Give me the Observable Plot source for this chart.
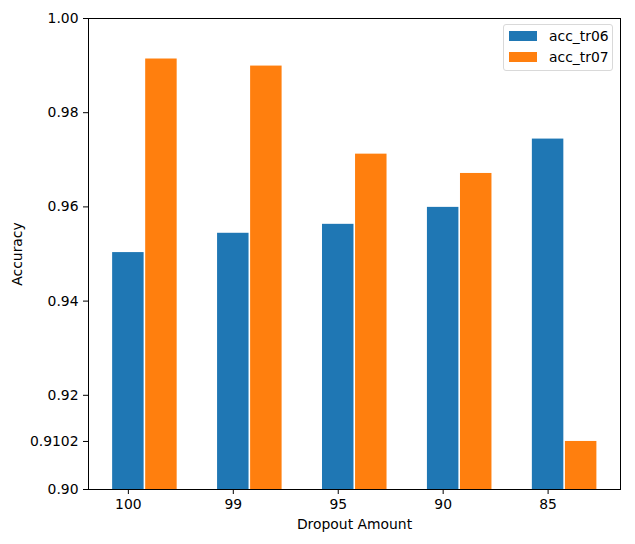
<!DOCTYPE html>
<html>
<head>
<meta charset="utf-8">
<script src="https://cdn.jsdelivr.net/npm/d3@7"></script>
<script src="https://cdn.jsdelivr.net/npm/@observablehq/plot@0.6"></script>
<style>
  html, body { margin: 0; padding: 0; background: #fff; }
  #wrap { position: relative; width: 635px; height: 544px; font-family: "DejaVu Sans", sans-serif; }
  #wrap svg text { font-size: 13.9px; }
  .legend { position: absolute; left: 503px; top: 24px; width: 108px; height: 45px; border: 1px solid #d9d9d9; border-radius: 3px; background: rgba(255,255,255,0.8); font-size: 13.9px; color: #000; }
  .legend .row { position: absolute; left: 5px; height: 14px; display: flex; align-items: center; }
  .legend .sw { width: 28px; height: 10px; margin-right: 12px; }
</style>
</head>
<body>
<div id="wrap"></div>
<script>
const categories = ["100", "99", "95", "90", "85"];
const acc_tr06 = [0.9503, 0.9544, 0.9563, 0.9599, 0.9744];
const acc_tr07 = [0.9914, 0.9899, 0.9712, 0.9671, 0.9102];
const seriesNames = ["acc_tr06", "acc_tr07"];
const seriesColors = ["#1f77b4", "#ff7f0e"];
const yTicks = [0.90, 0.9102, 0.92, 0.94, 0.96, 0.98, 1.00];
const yTickLabels = ["0.90", "0.9102", "0.92", "0.94", "0.96", "0.98", "1.00"];

const barW = 0.3, gap = 0.015;
const rows = [];
categories.forEach((c, i) => {
  rows.push({i, series: seriesNames[0], v: acc_tr06[i], x1: i - barW / 2, x2: i + barW / 2});
  rows.push({i, series: seriesNames[1], v: acc_tr07[i], x1: i + barW / 2 + gap, x2: i + barW * 1.5 + gap});
});

const chart = Plot.plot({
  width: 635,
  height: 544,
  marginLeft: 88,
  marginRight: 15,
  marginTop: 18,
  marginBottom: 55,
  style: {fontFamily: "DejaVu Sans, sans-serif", fontSize: "13.9px", color: "#000", background: "#fff"},
  x: {domain: [-0.38, 4.69]},
  y: {domain: [0.90, 1.00]},
  color: {domain: seriesNames, range: seriesColors},
  marks: [
    Plot.rectY(rows, {x1: "x1", x2: "x2", y1: 0.90, y2: "v", fill: "series"}),
    Plot.frame({stroke: "#000", strokeWidth: 1}),
    Plot.axisX({ticks: d3.range(categories.length), tickFormat: i => categories[i], tickSize: 5, tickPadding: 5,
      label: "Dropout Amount", labelAnchor: "center", labelArrow: "none", labelOffset: 39}),
    Plot.axisY({ticks: yTicks, tickFormat: d => yTickLabels[yTicks.indexOf(d)], tickSize: 5, tickPadding: 5,
      label: "Accuracy", labelAnchor: "center", labelArrow: "none", labelOffset: 76})
  ]
});

const wrap = document.getElementById("wrap");
wrap.appendChild(chart);

const legend = document.createElement("div");
legend.className = "legend";
seriesNames.forEach((s, k) => {
  const row = document.createElement("div");
  row.className = "row";
  row.style.top = (4 + k * 21) + "px";
  const sw = document.createElement("div");
  sw.className = "sw";
  sw.style.background = seriesColors[k];
  const t = document.createElement("span");
  t.textContent = s;
  row.appendChild(sw);
  row.appendChild(t);
  legend.appendChild(row);
});
wrap.appendChild(legend);
</script>
</body>
</html>
